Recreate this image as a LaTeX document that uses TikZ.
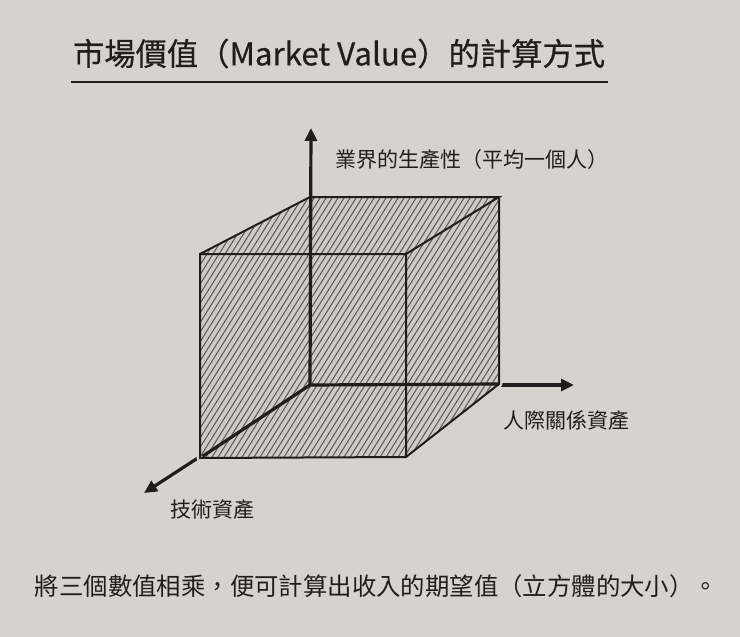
\documentclass[tikz,border=0pt]{standalone}
\usepackage{fontspec}
\setmainfont{Noto Sans CJK TC}
\newfontfamily\titlefont{Noto Sans CJK TC}[FakeBold=0.5]
\usetikzlibrary{arrows.meta}
\definecolor{paper}{RGB}{214,210,205}
\definecolor{ink}{RGB}{32,30,29}
\definecolor{hatchbg}{RGB}{206,202,197}
\definecolor{hatchline}{RGB}{96,94,91}
\tikzset{
  axis/.style={draw=ink, line width=3.2pt},
  axisarrow/.style={axis, -{Triangle[length=13pt,width=12pt]}},
  edge/.style={draw=ink, line width=2pt, line join=miter},
  halo/.style={draw=paper, line width=7pt, line join=round},
  lbl/.style={text=ink, inner sep=0pt, anchor=west, font=\fontsize{21}{25}\selectfont},
}
\begin{document}
\begin{tikzpicture}[x=1pt,y=-1pt]
\fill[paper] (0,0) rectangle (740,637);
\useasboundingbox (0,0) rectangle (740,637);
% title
\node[text=ink, inner sep=0pt, font=\titlefont\fontsize{31.3}{36}\selectfont] (title) at (339,53.5) {市場價值（Market Value）的計算方式};
\coordinate (ulL) at (71,82);
\coordinate (ulR) at (608,82);
\draw[ink, line width=2.3pt] (ulL) -- (ulR);
% cube corners
\coordinate (O) at (310,385);
\coordinate (BTL) at (310,197);
\coordinate (BTR) at (499,197);
\coordinate (BBR) at (499,384);
\coordinate (FTL) at (200,254);
\coordinate (FTR) at (406,254);
\coordinate (FBR) at (406,457);
\coordinate (FBL) at (200,458);
% axis ends
\coordinate (Ytip) at (311,128);
\coordinate (Xtip) at (574,385);
\coordinate (Ztip) at (144,493);
% axes (full)
\draw[axisarrow] (O) -- (Xtip);
\draw[axisarrow] (O) -- (Ztip);
% halo
\draw[halo] (FBL) -- (FTL) -- (BTL) -- (BTR) -- (BBR) -- (FBR) -- cycle;
% hatched cube
\fill[hatchbg] (FBL) -- (FTL) -- (BTL) -- (BTR) -- (BBR) -- (FBR) -- cycle;
\begin{scope}
\clip (FBL) -- (FTL) -- (BTL) -- (BTR) -- (BBR) -- (FBR) -- cycle;
\foreach \i in {0,6,...,520} {
  \draw[hatchline, line width=1.1pt] (\i,470) -- ++(175,-280);
}
\end{scope}
% inner axes
\draw[axis] (O) -- (BBR);
\draw[axis, shorten >=3pt] (O) -- (FBL);
% cube edges
\draw[edge] (FBL) -- (FTL) -- (FTR) -- (FBR) -- cycle;
\draw[edge] (FTL) -- (BTL) -- (BTR) -- (FTR);
\draw[edge] (BTR) -- (BBR) -- (FBR);
% vertical axis
\draw[axisarrow] (O) -- (Ytip);
% labels
\node[lbl] (ylab) at (335,160) {業界的生產性（平均一個人）};
\node[lbl] (xlab) at (503,420) {人際關係資產};
\node[lbl] (zlab) at (170,510) {技術資產};
% caption
\node[text=ink, inner sep=0pt, font=\fontsize{24.4}{29}\selectfont] (cap) at (376.5,586) {將三個數值相乘，便可計算出收入的期望值（立方體的大小）。};
\end{tikzpicture}
\end{document}
